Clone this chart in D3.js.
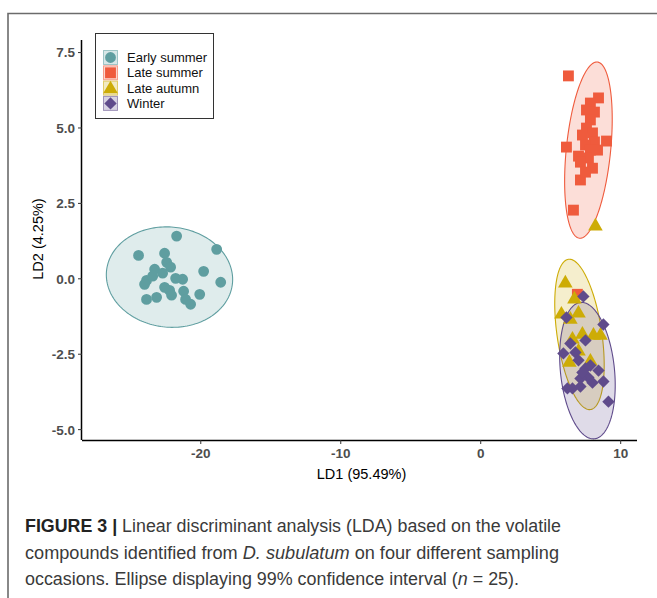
<!DOCTYPE html>
<html>
<head>
<meta charset="utf-8">
<script src="https://cdn.jsdelivr.net/npm/d3@7"></script>
<style>
  html, body { margin: 0; padding: 0; background: #fff; }
  svg { display: block; }
</style>
</head>
<body>
<svg id="chart" width="657" height="598"></svg>
<script>
// ---------------- DATA ----------------
const seasons = ["Early summer", "Late summer", "Late autumn", "Winter"];

const earlySummer = [
  [-21.69, 1.40], [-18.83, 0.96], [-24.41, 0.76], [-22.55, 0.83], [-22.40, 0.53],
  [-22.12, 0.37], [-23.26, 0.30], [-22.69, 0.17], [-23.84, -0.07], [-23.98, -0.20],
  [-19.76, 0.23], [-18.54, -0.13], [-21.26, -0.03], [-22.55, -0.30], [-22.19, -0.40],
  [-22.05, -0.56], [-21.19, -0.43], [-21.05, -0.70], [-20.04, -0.53], [-20.69, -0.86],
  [-23.84, -0.70], [-23.12, -0.63], [-23.40, 0.07], [-21.76, 0.00]
];
const lateSummer = [
  [6.30, 6.71], [8.45, 5.98], [7.87, 5.81], [7.59, 5.58], [8.16, 5.51],
  [7.87, 5.25], [7.59, 4.98], [8.02, 4.82], [7.30, 4.75], [6.16, 4.35],
  [9.02, 4.55], [8.16, 4.52], [7.52, 4.42], [7.87, 4.25], [7.02, 4.05],
  [7.73, 3.99], [7.16, 3.85], [8.02, 3.65], [7.16, 3.26], [7.52, 3.52],
  [6.66, 2.26], [8.38, 4.25], [6.94, -0.53]
];
const lateAutumn = [
  [8.23, 1.76], [6.08, -0.13], [6.73, -0.66], [5.80, -1.16], [7.02, -1.13],
  [6.44, -1.33], [7.30, -1.83], [8.09, -1.86], [8.59, -1.86], [6.59, -1.99],
  [7.87, -2.72], [6.37, -2.76], [7.02, -2.39]
];
const winter = [
  [7.37, -0.60], [6.16, -1.30], [8.80, -1.53], [6.44, -2.16], [7.52, -2.06],
  [5.94, -2.49], [6.80, -2.46], [7.02, -2.72], [7.52, -2.99], [8.45, -3.06],
  [7.73, -3.29], [7.16, -3.32], [8.02, -3.46], [8.80, -3.42], [6.59, -3.65],
  [7.16, -3.59], [6.23, -3.65], [9.16, -4.09], [7.87, -2.89], [7.30, -3.12]
];

// 99% confidence ellipses (data units): centre, conjugate half-axis vectors u and v
const ellipseCenter = [[-22.20, 0.04], [7.73, 4.25], [7.09, -1.86], [7.66, -3.06]];
const ellipseU = [[4.51, -0.13], [1.575, -0.075], [1.58, 0.108], [1.92, 0.092]];
const ellipseV = [[0.14, 1.66], [0.64, 2.92], [-0.79, 2.49], [-0.50, 2.26]];

const xTicks = [-20, -10, 0, 10];
const yTicks = [-5.0, -2.5, 0.0, 2.5, 5.0, 7.5];
const xTitle = "LD1 (95.49%)";
const yTitle = "LD2 (4.25%)";

// ---------------- STYLE ----------------
const colors = ["#5f9ea0", "#ef5b3d", "#cdac06", "#5f4b8b"];
const shapes = ["circle", "square", "triangle", "diamond"];
const seriesData = [earlySummer, lateSummer, lateAutumn, winter];

const svg = d3.select("#chart");
const L = 82, R = 637, T = 40, B = 440;

const x = d3.scaleLinear().domain([-28.45, 11.2]).range([L, R]);
const y = d3.scaleLinear().domain([-5.36, 7.9]).range([B, T]);

// Outer frame
svg.append("path")
  .attr("d", `M8,600 L8,13.5 L660,13.5`)
  .attr("fill", "none").attr("stroke", "#6b6b6b").attr("stroke-width", 1.6);

// Ellipses
const ell = d3.line().x(d => x(d[0])).y(d => y(d[1]));
const ts = d3.range(0, 361, 2).map(a => a * Math.PI / 180);
const gE = svg.append("g");
seasons.forEach((s, i) => {
  const c = ellipseCenter[i], u = ellipseU[i], v = ellipseV[i];
  const pts = ts.map(t => [c[0] + u[0] * Math.cos(t) + v[0] * Math.sin(t),
                           c[1] + u[1] * Math.cos(t) + v[1] * Math.sin(t)]);
  gE.append("path").attr("d", ell(pts) + "Z")
    .attr("fill", colors[i]).attr("fill-opacity", 0.2)
    .attr("stroke", colors[i]).attr("stroke-width", 1.1);
});

function symPath(shape) {
  if (shape === "circle") return d3.symbol(d3.symbolCircle, 92)();
  if (shape === "square") return d3.symbol(d3.symbolSquare, 118)();
  if (shape === "triangle") return d3.symbol(d3.symbolTriangle, 92)();
  return d3.symbol(d3.symbolSquare, 76)();
}
function symTransform(shape, px, py) {
  if (shape === "diamond") return `translate(${px},${py}) rotate(45)`;
  if (shape === "triangle") return `translate(${px},${py + 1})`;
  return `translate(${px},${py})`;
}

// Points
const gP = svg.append("g");
seriesData.forEach((data, i) => {
  gP.selectAll(null).data(data).enter().append("path")
    .attr("d", symPath(shapes[i]))
    .attr("transform", d => symTransform(shapes[i], x(d[0]), y(d[1])))
    .attr("fill", colors[i]);
});

// Axes (hyphen-minus as in the reference)
const hy = f => (d => f(d).replace("\u2212", "-"));
const tickFont = "'Liberation Sans', Arial, sans-serif";
const xAxis = svg.append("g").attr("transform", `translate(0,${B})`)
  .call(d3.axisBottom(x).tickValues(xTicks).tickSize(4).tickSizeOuter(0).tickPadding(4).tickFormat(hy(d3.format("d"))));
const yAxis = svg.append("g").attr("transform", `translate(${L},0)`)
  .call(d3.axisLeft(y).tickValues(yTicks).tickSize(4).tickSizeOuter(0).tickPadding(3).tickFormat(hy(d3.format(".1f"))));
[xAxis, yAxis].forEach(g => {
  g.select(".domain").attr("stroke", "#000").attr("stroke-width", 1.5);
  g.selectAll(".tick line").attr("stroke", "#333").attr("stroke-width", 1);
  g.selectAll(".tick text").attr("fill", "#4d4d4d")
    .style("font-family", tickFont).style("font-size", "13.5px").style("font-weight", "bold");
});
xAxis.select(".domain").attr("d", `M${L},0.5H${R}`);
yAxis.select(".domain").attr("d", `M-0.5,${T}V${B}`);
yAxis.selectAll(".tick text").attr("dy", "0.36em");

svg.append("text").text(xTitle)
  .attr("x", (L + R) / 2 + 2).attr("y", 479).attr("text-anchor", "middle")
  .style("font-family", tickFont).style("font-size", "14.5px").attr("fill", "#000");
svg.append("text").text(yTitle)
  .attr("transform", `translate(43,${(T + B) / 2 - 1}) rotate(-90)`).attr("text-anchor", "middle")
  .style("font-family", tickFont).style("font-size", "14.5px").attr("fill", "#000");

// Legend
const lg = svg.append("g");
lg.append("rect").attr("x", 95.5).attr("y", 33.5).attr("width", 118).attr("height", 85)
  .attr("fill", "#fff").attr("stroke", "#333").attr("stroke-width", 1);
seasons.forEach((s, i) => {
  const ky = 50 + i * 15.3;
  lg.append("rect").attr("x", 103.5).attr("y", ky + 0.5).attr("width", 14).attr("height", 14)
    .attr("fill", colors[i]).attr("fill-opacity", 0.25)
    .attr("stroke", colors[i]).attr("stroke-opacity", 0.55).attr("stroke-width", 1);
  lg.append("path").attr("d", symPath(shapes[i]))
    .attr("transform", symTransform(shapes[i], 110.5, ky + 7.5)).attr("fill", colors[i]);
  lg.append("text").text(s).attr("x", 127).attr("y", ky + 12)
    .style("font-family", tickFont).style("font-size", "13px").attr("fill", "#111");
});

// Caption
const capFont = "'Liberation Sans Narrow', 'Arial Narrow', 'Liberation Sans', Arial, sans-serif";
const cap = svg.append("g").attr("fill", "#3a3a3a")
  .style("font-family", capFont).style("font-size", "17.5px");
const l1 = cap.append("text").attr("x", 25).attr("y", 532).attr("textLength", 536).attr("lengthAdjust", "spacingAndGlyphs");
l1.append("tspan").text("FIGURE 3 |").style("font-weight", "bold").attr("fill", "#222");
l1.append("tspan").text(" Linear discriminant analysis (LDA) based on the volatile");
const l2 = cap.append("text").attr("x", 25).attr("y", 558.5).attr("textLength", 534).attr("lengthAdjust", "spacingAndGlyphs");
l2.append("tspan").text("compounds identified from ");
l2.append("tspan").text("D. subulatum").style("font-style", "italic");
l2.append("tspan").text(" on four different sampling");
const l3 = cap.append("text").attr("x", 25).attr("y", 585).attr("textLength", 494).attr("lengthAdjust", "spacingAndGlyphs");
l3.append("tspan").text("occasions. Ellipse displaying 99% confidence interval (");
l3.append("tspan").text("n").style("font-style", "italic");
l3.append("tspan").text(" = 25).");
</script>
</body>
</html>
